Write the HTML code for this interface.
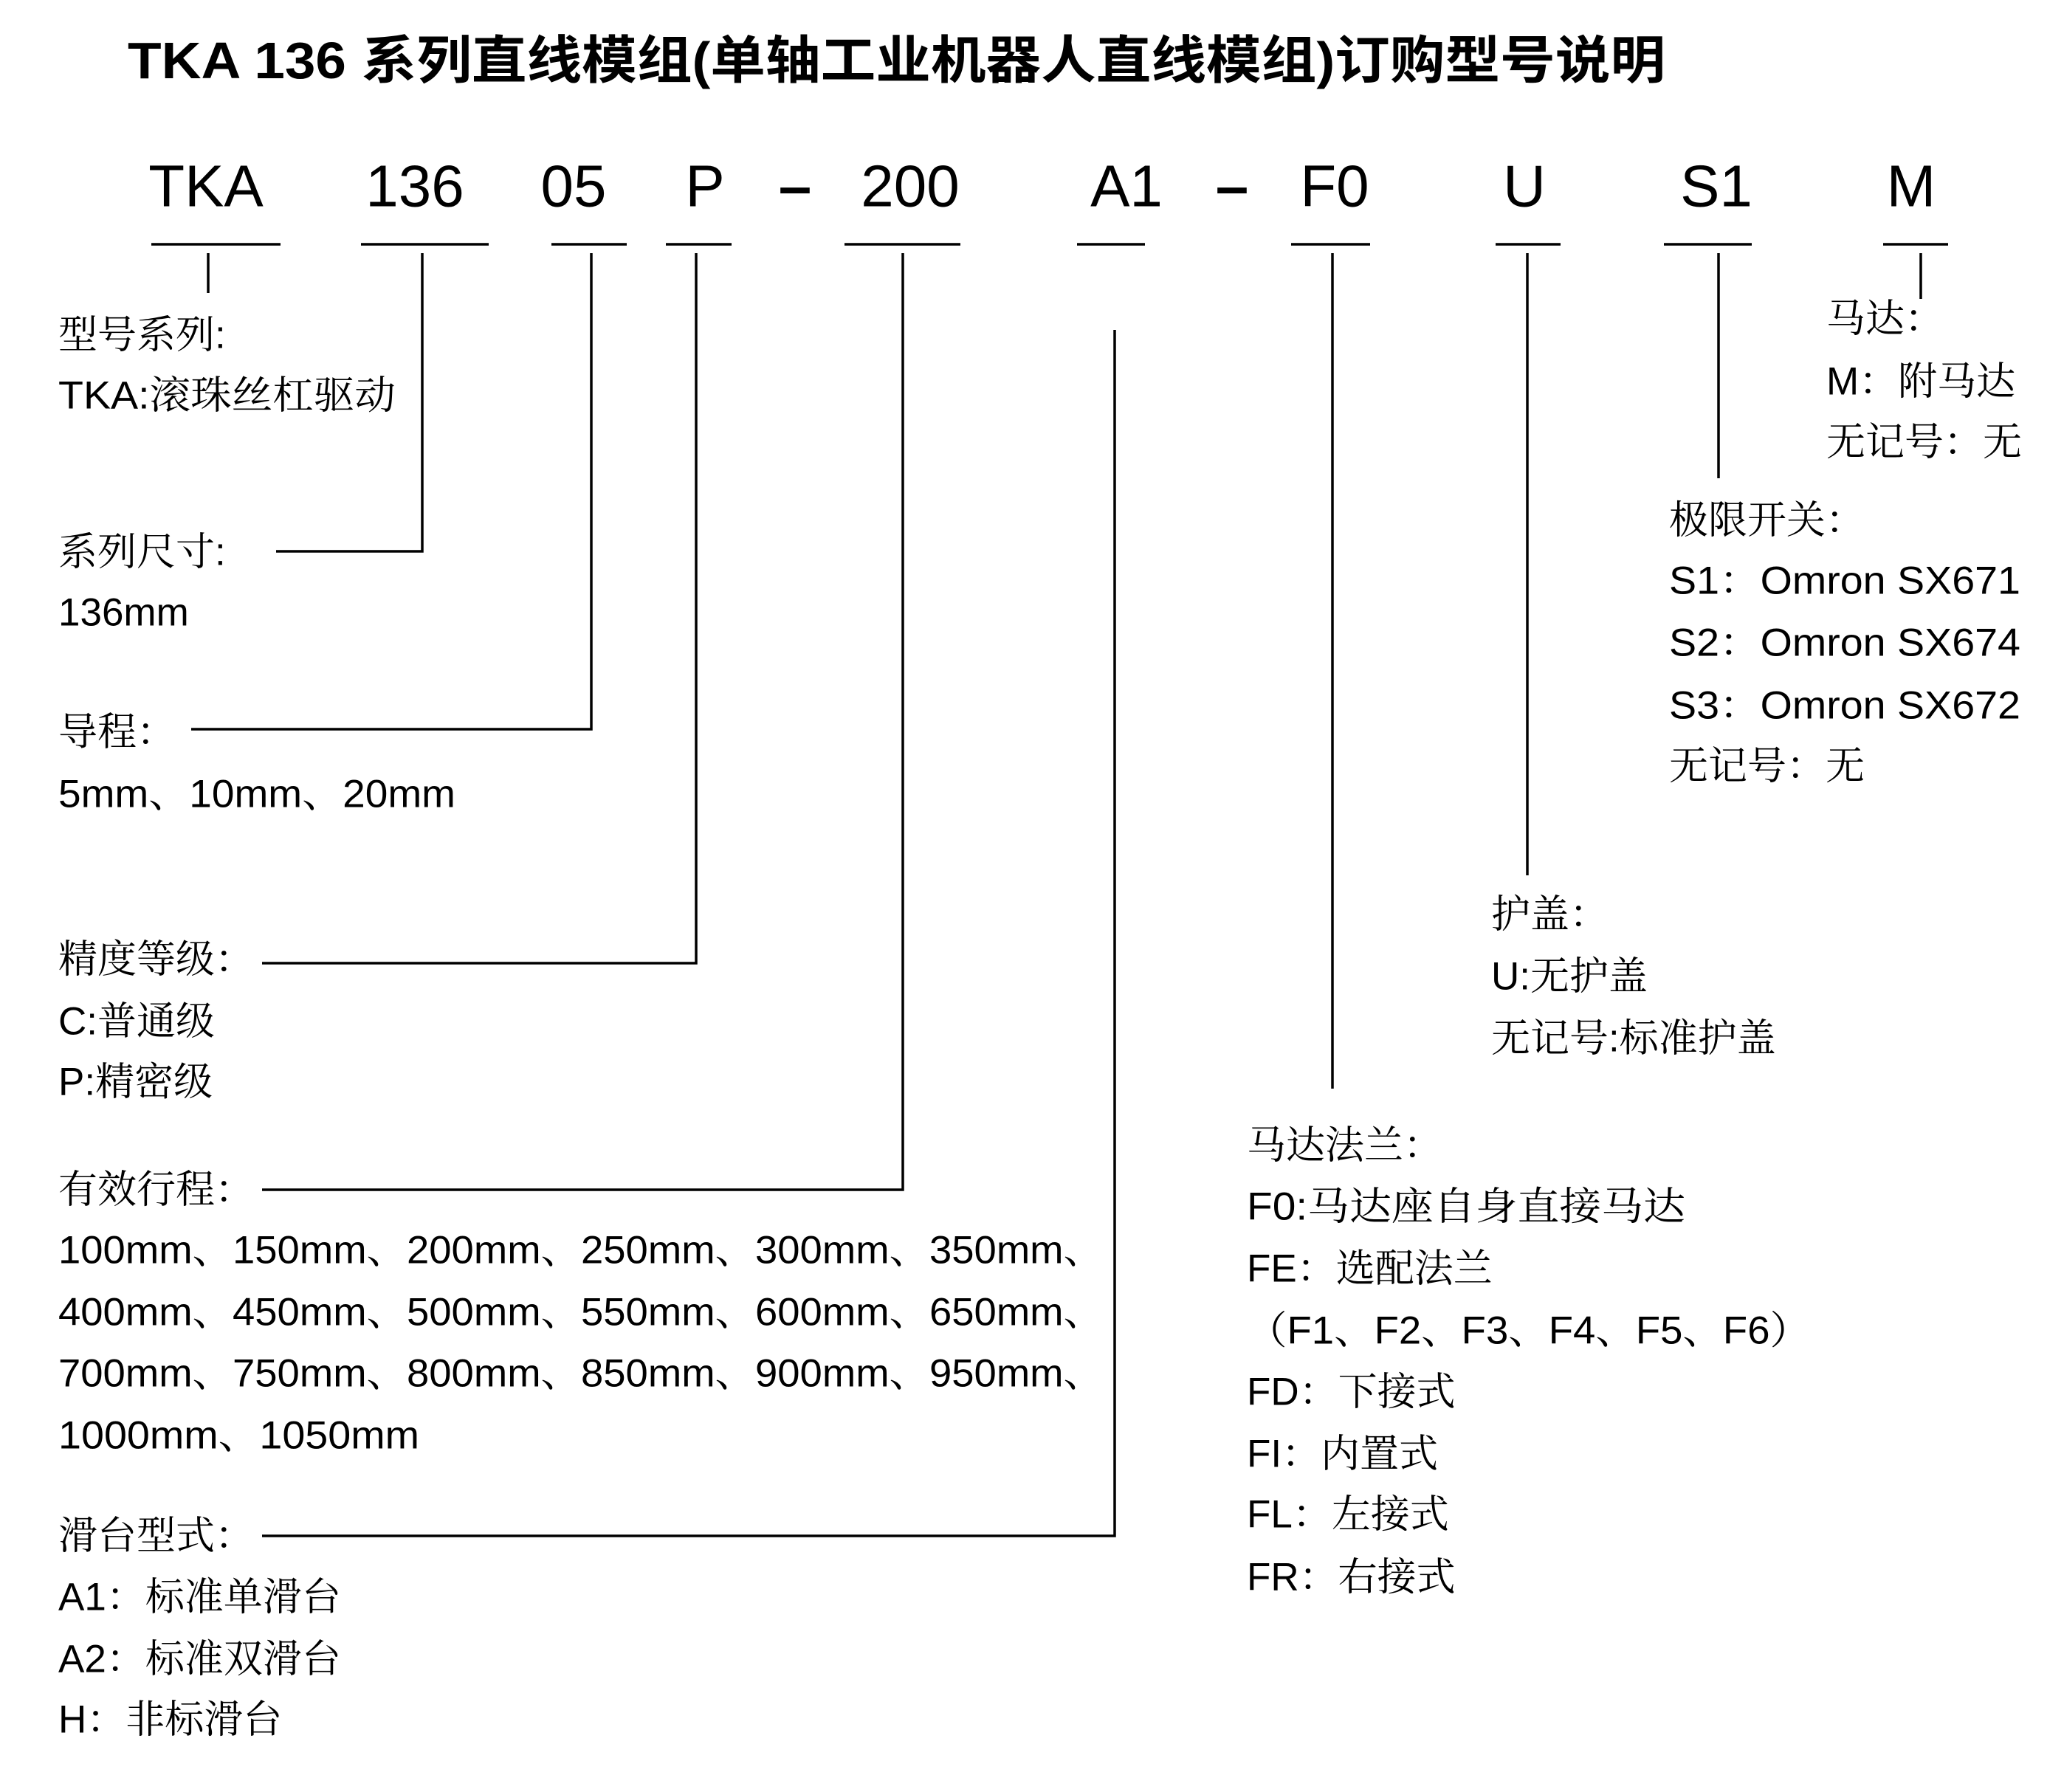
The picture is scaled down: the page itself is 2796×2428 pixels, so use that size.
<!DOCTYPE html>
<html><head><meta charset="utf-8"><style>
html,body{margin:0;padding:0;background:#fff}
svg{display:block}
text{font-family:"Liberation Sans","Noto Serif CJK SC",serif;fill:#000;dominant-baseline:central}
.c{font-family:"Liberation Sans",sans-serif;font-size:80px;text-anchor:middle}
.t{font-size:53px}
</style></head><body>
<svg width="2796" height="2428" viewBox="0 0 2796 2428" xmlns="http://www.w3.org/2000/svg">
<text x="173" y="82" style="font-family:'Liberation Sans','Noto Sans CJK SC',sans-serif;font-size:70px;font-weight:bold" textLength="2083" lengthAdjust="spacingAndGlyphs">TKA 136 系列直线模组(单轴工业机器人直线模组)订购型号说明</text>
<g>
<text class="c" x="279" y="252">TKA</text>
<text class="c" x="562" y="252">136</text>
<text class="c" x="777" y="252">05</text>
<text class="c" x="955" y="252">P</text>
<text class="c" x="1077" y="252" style="font-weight:bold">–</text>
<text class="c" x="1233" y="252">200</text>
<text class="c" x="1526" y="252">A1</text>
<text class="c" x="1669" y="252" style="font-weight:bold">–</text>
<text class="c" x="1808" y="252">F0</text>
<text class="c" x="2065" y="252">U</text>
<text class="c" x="2325" y="252">S1</text>
<text class="c" x="2589" y="252">M</text>
</g>
<g stroke="#000" stroke-width="3.5" fill="none">
<path d="M205 331H380M489 331H662M747 331H849M902 331H991M1144 331H1301M1459 331H1551M1749 331H1856M2026 331H2114M2254 331H2373M2551 331H2639"/>
<path d="M282 343V397"/>
<path d="M572 343V747H374"/>
<path d="M801 343V988H259"/>
<path d="M943 343V1305H355"/>
<path d="M1223 343V1612H355"/>
<path d="M1510 447V2081H355"/>
<path d="M1805 343V1475"/>
<path d="M2069 343V1186"/>
<path d="M2328 343V648"/>
<path d="M2602 343V405"/>
</g>
<g class="t">
<text class="t" x="79" y="454">型号系列:</text>
<text class="t" x="79" y="536" textLength="457" lengthAdjust="spacingAndGlyphs">TKA:滚珠丝杠驱动</text>
<text class="t" x="79" y="748">系列尺寸:</text>
<text class="t" x="79" y="830">136mm</text>
<text class="t" x="79" y="992">导程：</text>
<text class="t" x="79" y="1076" textLength="538" lengthAdjust="spacingAndGlyphs">5mm、10mm、20mm</text>
<text class="t" x="79" y="1300">精度等级：</text>
<text class="t" x="79" y="1384">C:普通级</text>
<text class="t" x="79" y="1466">P:精密级</text>
<text class="t" x="79" y="1612">有效行程：</text>
<text class="t" x="79" y="1694" textLength="1416" lengthAdjust="spacingAndGlyphs">100mm、150mm、200mm、250mm、300mm、350mm、</text>
<text class="t" x="79" y="1778" textLength="1416" lengthAdjust="spacingAndGlyphs">400mm、450mm、500mm、550mm、600mm、650mm、</text>
<text class="t" x="79" y="1861" textLength="1416" lengthAdjust="spacingAndGlyphs">700mm、750mm、800mm、850mm、900mm、950mm、</text>
<text class="t" x="79" y="1945" textLength="489" lengthAdjust="spacingAndGlyphs">1000mm、1050mm</text>
<text class="t" x="79" y="2081">滑台型式：</text>
<text class="t" x="79" y="2164">A1：标准单滑台</text>
<text class="t" x="79" y="2248">A2：标准双滑台</text>
<text class="t" x="79" y="2330">H：非标滑台</text>

<text class="t" x="2474" y="432">马达：</text>
<text class="t" x="2474" y="517">M：附马达</text>
<text class="t" x="2474" y="599">无记号：无</text>

<text class="t" x="2261" y="705">极限开关：</text>
<text class="t" x="2261" y="787" textLength="476" lengthAdjust="spacingAndGlyphs">S1：Omron SX671</text>
<text class="t" x="2261" y="871" textLength="476" lengthAdjust="spacingAndGlyphs">S2：Omron SX674</text>
<text class="t" x="2261" y="956" textLength="476" lengthAdjust="spacingAndGlyphs">S3：Omron SX672</text>
<text class="t" x="2261" y="1038">无记号：无</text>

<text class="t" x="2020" y="1239">护盖：</text>
<text class="t" x="2020" y="1323">U:无护盖</text>
<text class="t" x="2020" y="1407">无记号:标准护盖</text>

<text class="t" x="1689" y="1552">马达法兰：</text>
<text class="t" x="1689" y="1635" textLength="594" lengthAdjust="spacingAndGlyphs">F0:马达座自身直接马达</text>
<text class="t" x="1689" y="1719">FE：选配法兰</text>
<text class="t" x="1689" y="1803" textLength="763" lengthAdjust="spacingAndGlyphs">（F1、F2、F3、F4、F5、F6）</text>
<text class="t" x="1689" y="1886">FD：下接式</text>
<text class="t" x="1689" y="1970">FI：内置式</text>
<text class="t" x="1689" y="2052">FL：左接式</text>
<text class="t" x="1689" y="2137">FR：右接式</text>
</g>
</svg>
</body></html>
